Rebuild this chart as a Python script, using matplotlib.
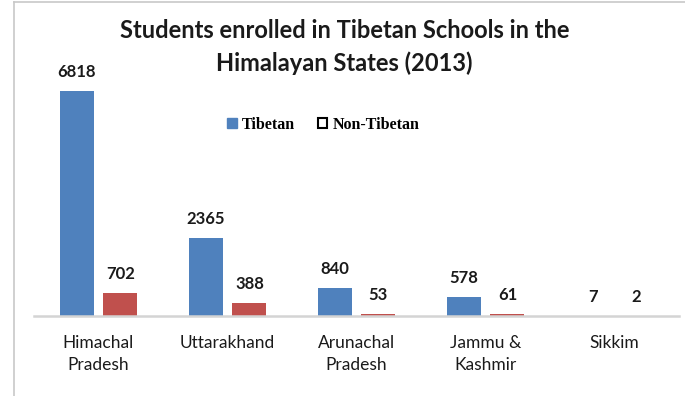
import matplotlib.pyplot as plt
import numpy as np
from matplotlib.lines import Line2D
from matplotlib.patches import Patch

plt.rcParams.update({"font.family": ["Lato", "DejaVu Sans"]})
BLUE, RED, GRID = "#4f81bd", "#c0504d", "#d4d4d4"

states = ["Himachal\nPradesh", "Uttarakhand", "Arunachal\nPradesh", "Jammu &\nKashmir", "Sikkim"]
tibetan = [6818, 2365, 840, 578, 7]
non_tibetan = [702, 388, 53, 61, 2]

fig = plt.figure(figsize=(6.85, 3.96), dpi=100)
ax = fig.add_axes([34/685, 1-316/396, 645/685, 264/396])

x = np.arange(len(states)); w = 0.264; off = 0.17
b1 = ax.bar(x-off, tibetan, w, color=BLUE)
b2 = ax.bar(x+off, non_tibetan, w, color=RED)
for bars in (b1, b2):
    for r in bars:
        ax.annotate(f"{r.get_height():.0f}", (r.get_x()+r.get_width()/2, r.get_height()),
                    xytext=(0, 8), textcoords="offset points", ha="center", va="bottom",
                    fontsize=12, fontweight="bold", color="#1a1a1a")

ax.set_xlim(-0.5, 4.5); ax.set_ylim(0, 8000)
ax.set_yticks([])
ax.set_xticks(x); ax.set_xticklabels(states, fontsize=12.5, color="#1a1a1a", linespacing=1.4)
ax.tick_params(axis="x", length=0, pad=14)
for s in ("top", "right", "left"):
    ax.spines[s].set_visible(False)
ax.spines["bottom"].set_color(GRID); ax.spines["bottom"].set_linewidth(1.8)

fig.text(0.503, 1-47/396, "Students enrolled in Tibetan Schools in the\nHimalayan States (2013)",
         ha="center", va="center", fontsize=17, fontweight="bold", color="#1a1a1a", linespacing=1.45)

handles = [Patch(facecolor=BLUE, edgecolor=BLUE),
           Patch(facecolor="white", edgecolor="black", lw=1.5)]
fig.legend(handles, ["Tibetan", "Non-Tibetan"], loc="center", bbox_to_anchor=(0.472, 1-125/396),
           ncol=2, frameon=False, handlelength=0.6, handleheight=0.6, handletextpad=0.35,
           columnspacing=1.4, prop={"family": "Liberation Serif", "weight": "bold", "size": 11.5})

# chart frame (left and top edges)
fig.add_artist(Line2D([14/685, 14/685], [0, 1-2/396], color="#c8c8c8", lw=1.2))
fig.add_artist(Line2D([14/685, 1], [1-2/396, 1-2/396], color="#c8c8c8", lw=1.2))

fig.savefig("out.png", dpi=100)
